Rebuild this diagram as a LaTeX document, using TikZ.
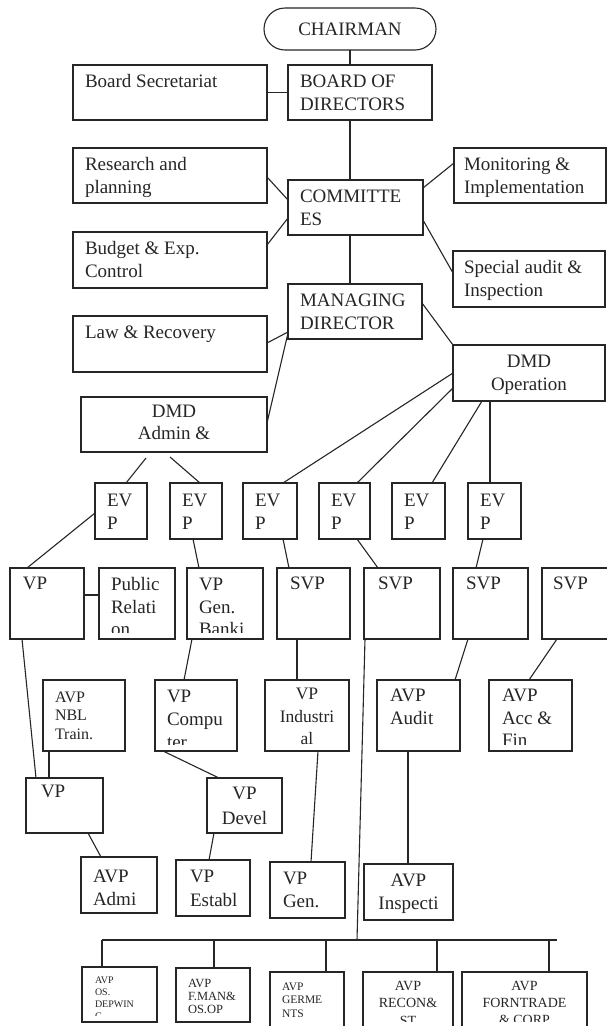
\documentclass[tikz,border=0pt]{standalone}
\usepackage{fontspec}
\setmainfont{Liberation Serif}
\usetikzlibrary{calc}
\newcommand\fs[2]{\fontsize{#1}{#2}\selectfont}
\newcommand\cin{7pt}
\tikzset{
  box/.style={draw=black!85, line width=1.1pt, shape=rectangle, inner sep=0pt, outer sep=0pt, anchor=north west},
  txt/.style={shape=rectangle, inner sep=0pt, outer sep=0pt, minimum width=0pt, minimum height=0pt, draw=none, fill=none,
    text=black!85, font=\fs{19}{22.5}, align=left, anchor=north west,
    at={([xshift=12pt,yshift=-9.3pt]path picture bounding box.north west)}},
  tl/.style 2 args={anchor=north west, align=left, at={([xshift=#1pt,yshift=-#2pt]path picture bounding box.north west)}},
  tc/.style={anchor=north, align=center, at={([yshift=-#1pt]path picture bounding box.north)}},
  lnk/.style={draw=black!85, line width=1.1pt},
}
% #1 text options, #2 name, #3 x1, #4 y1, #5 x2, #6 y2, #7 text
\newcommand{\bx}[7][]{%
  \node[box, minimum width={#5pt-#3pt}, minimum height={#6pt-#4pt},
    path picture={%
      \clip ([yshift=\cin]path picture bounding box.south west) rectangle (path picture bounding box.north east);
      \node[txt,#1] {\rule{0pt}{0.72em}#7};
    }] (#2) at (#3,#4) {};%
}
\begin{document}
\begin{tikzpicture}[x=1pt,y=-1pt]
\fill[white] (0,0) rectangle (607,1026);
\useasboundingbox (0,0) rectangle (607,1026);

\node[box, rounded corners=21pt, minimum width=172pt, minimum height=42pt, font=\fs{19}{22.5}, text=black!85] (chair) at (264,8) {CHAIRMAN};

\bx{bsec}{73}{65}{267}{120}{Board Secretariat}
\bx{bod}{288}{65}{432}{120}{BOARD OF\\DIRECTORS}
\bx{res}{73}{148}{267}{203}{Research and\\planning}
\bx[tl={10}{9.3}]{mon}{454}{148}{606}{203}{Monitoring \&\\Implementation}
\bx{com}{288}{180}{423}{235}{COMMITTE\\ES}
\bx{bud}{73}{232}{267}{288}{Budget \& Exp.\\Control}
\bx[tl={11}{9.3}]{spa}{453}{251}{605}{307}{Special audit \&\\Inspection}
\bx{md}{288}{284}{422}{339}{MANAGING\\DIRECTOR}
\bx{law}{73}{316}{267}{372}{Law \& Recovery}
\bx[tc={9.3}]{dmdo}{453}{345}{605}{401}{DMD\\Operation}
\bx[tc={6.5}]{dmda}{81}{397}{267}{452}{DMD\\Admin \&}

\bx[tl={12}{10.3}]{evp1}{95}{483}{147}{539}{EV\\P}
\bx[tl={12}{10.3}]{evp2}{170}{483}{222}{539}{EV\\P}
\bx[tl={12}{10.3}]{evp3}{243}{483}{297}{539}{EV\\P}
\bx[tl={12}{10.3}]{evp4}{319}{483}{370}{539}{EV\\P}
\bx[tl={12}{10.3}]{evp5}{392}{483}{445}{539}{EV\\P}
\bx[tl={12}{10.3}]{evp6}{468}{483}{521}{539}{EV\\P}

\bx[tl={13}{8.3}]{vp1}{10}{568}{84}{639}{VP}
\bx[tl={12}{9}]{pr}{99}{568}{175}{639}{Public\\Relati\\on}
\bx[tl={12}{9}]{vpg}{187}{568}{263}{639}{VP\\Gen.\\Banki}
\bx[tl={13}{8.3}]{svp1}{277}{568}{350}{639}{SVP}
\bx[tl={14}{8.3}]{svp2}{364}{568}{440}{639}{SVP}
\bx[tl={13}{8.3}]{svp3}{453}{568}{528}{639}{SVP}
\bx[tl={11}{8.3}]{svp4}{542}{568}{614}{639}{SVP}

\bx[tl={12}{10.5},font=\fs{16}{18.5}]{avpn}{43}{680}{125}{751}{AVP\\NBL\\Train.}
\bx[tl={12}{9.3},font=\fs{19}{23}]{vpc}{155}{680}{237}{751}{VP\\Compu\\ter}
\renewcommand\cin{1pt}
\bx[tc={7},font=\fs{17.5}{22.5}]{vpi}{265}{680}{349}{751}{VP\\Industri\\al}
\renewcommand\cin{7pt}
\bx[tl={13}{8.3}]{avpa}{377}{680}{460}{751}{AVP\\Audit}
\bx[tl={13}{8.3}]{avpf}{489}{680}{572}{751}{AVP\\Acc \&\\Fin}

\bx[tl={15}{6.3}]{vp2}{26}{778}{103}{833}{VP}
\bx[tc={8.3},font=\fs{19}{25}]{vpd}{207}{778}{282}{833}{VP\\Devel}

\bx[tl={12}{12.3}]{avpad}{81}{857}{157}{913}{AVP\\Admi}
\bx[tl={14}{9.3},font=\fs{19}{24}]{vpe}{176}{860}{250}{916}{VP\\Establ}
\bx[tl={13}{9.3}]{vpgn}{270}{862}{345}{918}{VP\\Gen.}
\bx[tc={9.3},font=\fs{19}{23}]{avpi}{364}{864}{453}{920}{AVP\\Inspecti}

\bx[tl={13}{8.8},font=\fs{10}{12.3}]{b1}{82}{967}{157}{1022}{AVP\\OS.\\DEPWIN\\G}
\bx[tl={12}{10},font=\fs{12.5}{13}]{b2}{176}{968}{250}{1022}{AVP\\F.MAN\&\\OS.OP}
\bx[tl={12}{10},font=\fs{11.5}{13.5}]{b3}{270}{972}{344}{1028}{AVP\\GERME\\NTS}
\bx[tc={8},font=\fs{14}{17.5}]{b4}{363}{972}{453}{1028}{AVP\\RECON\&\\ST}
\bx[tc={8},font=\fs{14}{17}]{b5}{462}{972}{587}{1028}{AVP\\FORNTRADE\\\& CORP}

% connectors
\draw[lnk] (chair.south) -- (chair.south |- bod.north);
\draw[lnk] (bsec.east) -- (bod.west);
\draw[lnk] (bod.south -| chair.south) -- (com.north -| chair.south);
\draw[lnk] ([yshift=-29pt]res.north east) -- ([yshift=-20pt]com.north west);
\draw[lnk] ([yshift=-15pt]mon.north west) -- ([yshift=-8pt]com.north east);
\draw[lnk] ([yshift=-13pt]bud.north east) -- ([yshift=-38pt]com.north west);
\draw[lnk] ([yshift=-40pt]com.north east) -- ([yshift=-22pt]spa.north west);
\draw[lnk] (com.south -| chair.south) -- (md.north -| chair.south);
\draw[lnk] ([yshift=-27pt]law.north east) -- ([yshift=-48pt]md.north west);
\draw[lnk] ([yshift=-49pt]md.north west) -- ([yshift=-26pt]dmda.north east);
\draw[lnk] ([yshift=-19pt]md.north east) -- (dmdo.north west);
\draw[lnk] ([yshift=-28pt]dmdo.north west) -- ([xshift=40pt]evp3.north west);
\draw[lnk] ([yshift=-43pt]dmdo.north west) -- ([xshift=38pt]evp4.north west);
\draw[lnk] ([xshift=29pt]dmdo.south west) -- ([xshift=40pt]evp5.north west);
\draw[lnk] ([xshift=37pt]dmdo.south west) -- ([xshift=22pt]evp6.north west);
\draw[lnk] ([xshift=65pt,yshift=-6pt]dmda.south west) -- ([xshift=31pt]evp1.north west);
\draw[lnk] ([xshift=89pt,yshift=-5pt]dmda.south west) -- ([xshift=30pt]evp2.north west);
\draw[lnk] ([yshift=-30pt]evp1.north west) -- ([xshift=17pt]vp1.north west);
\draw[lnk] ([yshift=-27pt]vp1.north east) -- ([yshift=-27pt]pr.north west);
\draw[lnk] ([xshift=23pt]evp2.south west) -- ([xshift=12pt]vpg.north west);
\draw[lnk] ([xshift=40pt]evp3.south west) -- ([xshift=12pt]svp1.north west);
\draw[lnk] ([xshift=38pt]evp4.south west) -- ([xshift=14pt]svp2.north west);
\draw[lnk] ([xshift=15pt]evp6.south west) -- ([xshift=23pt]svp3.north west);
\draw[lnk] ([xshift=12pt]vp1.south west) -- ([xshift=10pt]vp2.north west);
\draw[lnk] ([xshift=6pt]avpn.south west) -- ([xshift=23pt]vp2.north west);
\draw[lnk] ([xshift=5pt]vpg.south west) -- ([xshift=29pt]vpc.north west);
\draw[lnk] ([xshift=20pt]svp1.south west) -- ([xshift=32pt]vpi.north west);
\draw[lnk] ([xshift=15pt]svp3.south west) -- ([xshift=78pt]avpa.north west);
\draw[lnk] ([xshift=15pt]svp4.south west) -- ([xshift=40pt]avpf.north west);
\draw[lnk] ([xshift=8pt]vpc.south west) -- ([xshift=12pt]vpd.north west);
\draw[lnk] ([xshift=62pt]vp2.south west) -- ([xshift=20pt]avpad.north west);
\draw[lnk] ([xshift=7pt]vpd.south west) -- ([xshift=33pt]vpe.north west);
\draw[lnk] ([xshift=53pt]vpi.south west) -- ([xshift=41pt]vpgn.north west);
\draw[lnk] ([xshift=31pt]avpa.south west) -- ([xshift=44pt]avpi.north west);

\coordinate (busL) at (102,940);
\coordinate (busR) at (557,940);
\coordinate (busJ) at (357,940);
\draw[lnk] ([xshift=1pt]svp2.south west) -- (busJ);
\draw[lnk] (busL) -- (busR);
\draw[lnk] ([xshift=20pt]b1.north west) -- ([xshift=20pt]b1.north west |- busL);
\draw[lnk] ([xshift=38pt]b2.north west) -- ([xshift=38pt]b2.north west |- busL);
\draw[lnk] ([xshift=56pt]b3.north west) -- ([xshift=56pt]b3.north west |- busL);
\draw[lnk] ([xshift=74pt]b4.north west) -- ([xshift=74pt]b4.north west |- busL);
\draw[lnk] ([xshift=87pt]b5.north west) -- ([xshift=87pt]b5.north west |- busL);
\end{tikzpicture}
\end{document}
